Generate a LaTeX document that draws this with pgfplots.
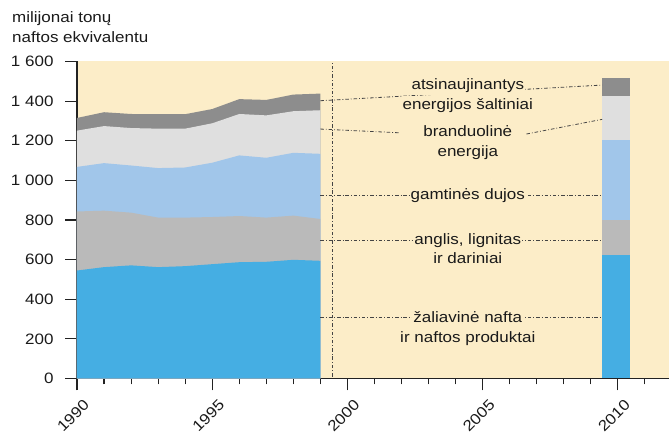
\documentclass[border=0pt]{standalone}
\usepackage{pgfplots}
\pgfplotsset{compat=1.18}
\usepackage{fontspec}
\setmainfont{Liberation Sans}[FakeStretch=1.13]
\definecolor{bgc}{HTML}{FCEDC8}
\definecolor{oilc}{HTML}{45AEE3}
\definecolor{coalc}{HTML}{BABABA}
\definecolor{gasc}{HTML}{A1C6EA}
\definecolor{nucc}{HTML}{DFDFDF}
\definecolor{renc}{HTML}{8D8D8D}
\definecolor{axc}{HTML}{222222}
\definecolor{ldc}{HTML}{444444}
\definecolor{txc}{HTML}{1A1A1A}
\newcommand{\lf}{\fontsize{15.1}{18}\selectfont}
\begin{document}
\begin{tikzpicture}[x=1bp,y=1bp,font=\lf,text=txc]
\useasboundingbox (-77,-60.5) rectangle (592,378.5);
\begin{axis}[
  at={(0,0)}, anchor=south west,
  scale only axis, width=592bp, height=317bp,
  xmin=1990, xmax=2011.89, ymin=0, ymax=1600,
  axis lines*=left,
  axis line style={color=axc, line width=1.1bp},
  axis background/.style={fill=bgc},
  tick align=outside,
  major tick length=12bp, minor tick length=6bp,
  tick style={color=axc, line width=1.1bp},
  tick label style={font=\lf, text=txc},
  xtick={1990,1995,2000,2005,2010},
  xticklabels={1990,1995,2000,2005,2010},
  minor xtick={1991,1992,1993,1994,1996,1997,1998,1999,2001,2002,2003,2004,2006,2007,2008,2009,2011},
  ytick={0,200,400,600,800,1000,1200,1400,1600},
  yticklabels={0,200,400,600,800,1 000,1 200,1 400,1 600},
  xticklabel style={xshift=12bp, yshift=-9.5bp, rotate=45, anchor=east},
  yticklabel style={xshift=-8bp},
  clip=false,
]
% cumulative area tops 1990-1999 (total, nuclear top, gas top, coal top, oil)
\addplot[fill=renc, draw=none] coordinates {
(1990,1315) (1991,1344) (1992,1335) (1993,1334) (1994,1334) (1995,1360) (1996,1410) (1997,1406) (1998,1433) (1999,1438)} \closedcycle;
\addplot[fill=nucc, draw=none] coordinates {
(1990,1251) (1991,1274) (1992,1264) (1993,1261) (1994,1261) (1995,1288) (1996,1335) (1997,1328) (1998,1349) (1999,1354)} \closedcycle;
\addplot[fill=gasc, draw=none] coordinates {
(1990,1068) (1991,1087) (1992,1075) (1993,1062) (1994,1065) (1995,1089) (1996,1126) (1997,1114) (1998,1139) (1999,1134)} \closedcycle;
\addplot[fill=coalc, draw=none] coordinates {
(1990,843) (1991,847) (1992,837) (1993,812) (1994,812) (1995,815) (1996,820) (1997,812) (1998,822) (1999,805)} \closedcycle;
\addplot[fill=oilc, draw=none] coordinates {
(1990,545) (1991,562) (1992,571) (1993,562) (1994,567) (1995,577) (1996,587) (1997,589) (1998,599) (1999,594)} \closedcycle;
% 2010 bar
\addplot[fill=oilc, draw=none] coordinates {(2009.42,0) (2009.42,621) (2010.45,621) (2010.45,0)} --cycle;
\addplot[fill=coalc, draw=none] coordinates {(2009.42,621) (2009.42,798) (2010.45,798) (2010.45,621)} --cycle;
\addplot[fill=gasc, draw=none] coordinates {(2009.42,798) (2009.42,1203) (2010.45,1203) (2010.45,798)} --cycle;
\addplot[fill=nucc, draw=none] coordinates {(2009.42,1203) (2009.42,1426) (2010.45,1426) (2010.45,1203)} --cycle;
\addplot[fill=renc, draw=none] coordinates {(2009.42,1426) (2009.42,1517) (2010.45,1517) (2010.45,1426)} --cycle;
% leader lines
\draw[color=ldc, line width=0.8bp, dash pattern=on 3.5bp off 2bp on 0.8bp off 2bp] (axis cs:1999.45,10) -- (axis cs:1999.45,1600);
\draw[color=ldc, line width=0.8bp, dash pattern=on 3.5bp off 2bp on 0.8bp off 2bp] (axis cs:1999,1402) -- (axis cs:2009.42,1481);
\draw[color=ldc, line width=0.8bp, dash pattern=on 3.5bp off 2bp on 0.8bp off 2bp] (axis cs:1999,1259) -- (axis cs:2001.94,1240);
\draw[color=ldc, line width=0.8bp, dash pattern=on 3.5bp off 2bp on 0.8bp off 2bp] (axis cs:2006.62,1234) -- (axis cs:2009.42,1308);
\draw[color=ldc, line width=0.8bp, dash pattern=on 3.5bp off 2bp on 0.8bp off 2bp] (axis cs:1999,926) -- (axis cs:2009.42,926);
\draw[color=ldc, line width=0.8bp, dash pattern=on 3.5bp off 2bp on 0.8bp off 2bp] (axis cs:1999,699) -- (axis cs:2009.42,699);
\draw[color=ldc, line width=0.8bp, dash pattern=on 3.5bp off 2bp on 0.8bp off 2bp] (axis cs:1999,307) -- (axis cs:2009.42,307);
\node[fill=bgc, inner xsep=1bp, inner ysep=2.5bp, anchor=base, font=\lf] at (axis cs:2004.45,1459.6) {atsinaujinantys};
\node[fill=bgc, inner xsep=1bp, inner ysep=2.5bp, anchor=base, font=\lf] at (axis cs:2004.45,1358.6) {energijos šaltiniai};
\node[anchor=base, font=\lf] at (axis cs:2004.45,1220.4) {branduolinė};
\node[anchor=base, font=\lf] at (axis cs:2004.45,1119.4) {energija};
\node[fill=bgc, inner xsep=1bp, inner ysep=2.5bp, anchor=base, font=\lf] at (axis cs:2004.45,904.4) {gamtinės dujos};
\node[fill=bgc, inner xsep=1bp, inner ysep=2.5bp, anchor=base, font=\lf] at (axis cs:2004.45,677.3) {anglis, lignitas};
\node[fill=bgc, inner xsep=1bp, inner ysep=2.5bp, anchor=base, font=\lf] at (axis cs:2004.45,577.9) {ir dariniai};
\node[fill=bgc, inner xsep=1bp, inner ysep=2.5bp, anchor=base, font=\lf] at (axis cs:2004.45,283.6) {žaliavinė nafta};
\node[fill=bgc, inner xsep=1bp, inner ysep=2.5bp, anchor=base, font=\lf] at (axis cs:2004.45,182.7) {ir naftos produktai};
\end{axis}
\node[anchor=base west, inner sep=0, font=\lf] at (-65,355.8) {milijonai tonų};
\node[anchor=base west, inner sep=0, font=\lf] at (-65,335.8) {naftos ekvivalentu};
\end{tikzpicture}
\end{document}
